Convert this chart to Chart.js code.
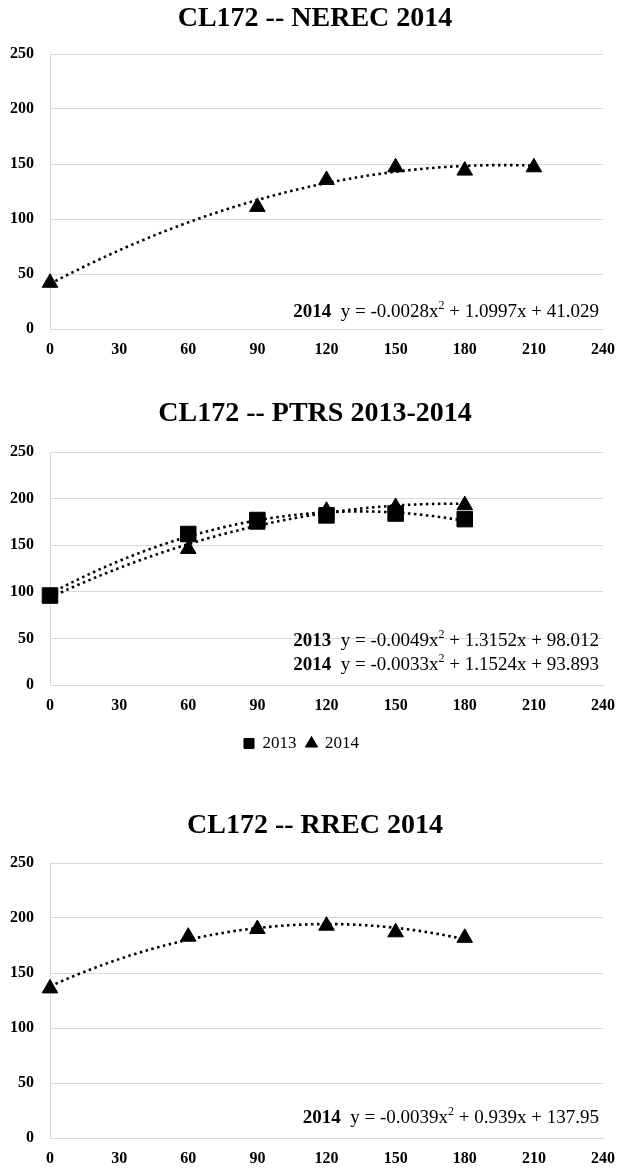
<!DOCTYPE html>
<html>
<head>
<meta charset="utf-8">
<script src="https://cdn.jsdelivr.net/npm/chart.js@4.4.0/dist/chart.umd.min.js"></script>
<style>
    html, body { margin: 0; padding: 0; background: #fff; }
    .box { position: absolute; left: 0; width: 619px; }
</style>
</head>
<body>
<div class="box" style="top:0px"><canvas id="nerecChart" width="619" height="362"></canvas></div>
<div class="box" style="top:380px"><canvas id="ptrsChart" width="619" height="382"></canvas></div>
<div class="box" style="top:800px"><canvas id="rrecChart" width="619" height="368"></canvas></div>
<script>
// days after planting (x) and readings (y)
const nerecDays = [0, 90, 120, 150, 180, 210];
const nerec2014 = [42, 111, 135.5, 147, 144, 147];
const nerecEq2014 = ["-0.0028", "1.0997", "41.029"];

const ptrsDays = [0, 60, 90, 120, 150, 180];
const ptrs2013 = [96, 162, 177, 182, 184, 178];
const ptrs2014 = [95, 146, 172, 187, 191, 193];
const ptrsEq2013 = ["-0.0049", "1.3152", "98.012"];
const ptrsEq2014 = ["-0.0033", "1.1524", "93.893"];

const rrecDays = [0, 60, 90, 120, 150, 180];
const rrec2014 = [136, 183, 190, 193, 187, 182];
const rrecEq2014 = ["-0.0039", "0.939", "137.95"];

const xMax = 240, xStep = 30;
const yMax = 250, yStep = 50;

const serif = '"Liberation Serif", "Times New Roman", serif';
const gridGray = "#d9d9d9";

// dotted polynomial trend lines, equation labels and the title
const trendPlugin = {
    id: "trendFit",
    beforeDatasetsDraw(chart, args, opts) {
        const ctx = chart.ctx;
        const xs = chart.scales.x, ys = chart.scales.y;
        ctx.save();
        ctx.strokeStyle = "#000";
        ctx.lineWidth = 2.6;
        ctx.setLineDash([2.5, 3.5]);
        opts.fits.forEach(function (f) {
            const c = f.eq.map(parseFloat);
            ctx.beginPath();
            for (let d = f.from; d <= f.to; d += 1) {
                const v = c[0] * d * d + c[1] * d + c[2];
                const px = xs.getPixelForValue(d), py = ys.getPixelForValue(v);
                if (d === f.from) ctx.moveTo(px, py); else ctx.lineTo(px, py);
            }
            ctx.stroke();
        });
        ctx.restore();
    },
    afterDraw(chart, args, opts) {
        const ctx = chart.ctx, area = chart.chartArea;
        ctx.save();
        ctx.fillStyle = "#000";
        ctx.textBaseline = "middle";

        ctx.textAlign = "center";
        ctx.font = "bold 28px " + serif;
        ctx.fillText(opts.title, 315, opts.titleY);

        ctx.textAlign = "left";
        opts.fits.forEach(function (f) {
            const parts = [
                { t: f.label + "  ", font: "bold 19px " + serif, dy: 0 },
                { t: "y = " + f.eq[0] + "x", font: "19px " + serif, dy: 0 },
                { t: "2", font: "12px " + serif, dy: -6 },
                { t: " + " + f.eq[1] + "x + " + f.eq[2], font: "19px " + serif, dy: 0 },
            ];
            let w = 0;
            parts.forEach(function (p) { ctx.font = p.font; p.w = ctx.measureText(p.t).width; w += p.w; });
            let x = area.right - 4 - w;
            const y = area.bottom + f.dy;
            parts.forEach(function (p) {
                ctx.font = p.font;
                ctx.fillText(p.t, x, y + p.dy);
                x += p.w;
            });
        });
        ctx.restore();
    },
};

function makeChart(id, title, titleY, plotTop, xAxisH, datasets, fits, showLegend) {
    const ctx = document.getElementById(id).getContext("2d");
    return new Chart(ctx, {
        type: "scatter",
        data: { datasets: datasets },
        options: {
            responsive: false,
            animation: false,
            layout: { padding: { left: 0, right: 16, top: plotTop, bottom: 0 } },
            plugins: {
                title: { display: false },
                legend: {
                    display: showLegend,
                    position: "bottom",
                    labels: {
                        usePointStyle: true,
                        boxWidth: 10,
                        boxHeight: 10,
                        padding: 10,
                        color: "#000",
                        font: { family: serif, size: 17 },
                    },
                },
                tooltip: { enabled: false },
                trendFit: { fits: fits, title: title, titleY: titleY },
            },
            scales: {
                x: {
                    type: "linear",
                    min: 0,
                    max: xMax,
                    afterFit: function (s) {
                        s.height = xAxisH;
                        s.paddingLeft = 0;
                        s.paddingRight = 0;
                    },
                    ticks: {
                        stepSize: xStep,
                        padding: 11,
                        color: "#000",
                        font: { family: serif, size: 16, weight: "bold" },
                    },
                    grid: { display: false, drawTicks: false },
                    border: { display: true, color: gridGray, width: 1 },
                },
                y: {
                    min: 0,
                    max: yMax,
                    afterFit: function (s) { s.width = 50; },
                    ticks: {
                        stepSize: yStep,
                        padding: 16,
                        color: "#000",
                        font: { family: serif, size: 16, weight: "bold" },
                    },
                    grid: { color: gridGray, lineWidth: 1, drawTicks: false },
                    border: { display: true, color: gridGray, width: 1 },
                },
            },
        },
        plugins: [trendPlugin],
    });
}

function toPoints(xs, ys) {
    return xs.map(function (x, i) { return { x: x, y: ys[i] }; });
}

function markerSet(label, xs, ys, style, r) {
    return {
        label: label,
        data: toPoints(xs, ys),
        pointStyle: style,
        pointRadius: r,
        pointBackgroundColor: "#000",
        pointBorderColor: "#000",
        pointBorderWidth: 1,
        backgroundColor: "#000",
        borderColor: "#000",
        showLine: false,
        clip: false,
    };
}

document.addEventListener("DOMContentLoaded", function () {
    makeChart(
        "nerecChart", "CL172 -- NEREC 2014", 19, 54, 33,
        [markerSet("2014", nerecDays, nerec2014, "triangle", 9)],
        [{ label: "2014", eq: nerecEq2014, from: 0, to: 210, dy: -17 }],
        false
    );

    makeChart(
        "ptrsChart", "CL172 -- PTRS 2013-2014", 34, 72, 40,
        [
            markerSet("2013", ptrsDays, ptrs2013, "rect", 11),
            markerSet("2014", ptrsDays, ptrs2014, "triangle", 9),
        ],
        [
            { label: "2013", eq: ptrsEq2013, from: 0, to: 180, dy: -44 },
            { label: "2014", eq: ptrsEq2014, from: 0, to: 180, dy: -20 },
        ],
        true
    );

    makeChart(
        "rrecChart", "CL172 -- RREC 2014", 26, 63, 30,
        [markerSet("2014", rrecDays, rrec2014, "triangle", 9)],
        [{ label: "2014", eq: rrecEq2014, from: 0, to: 180, dy: -20 }],
        false
    );
});
</script>
</body>
</html>
